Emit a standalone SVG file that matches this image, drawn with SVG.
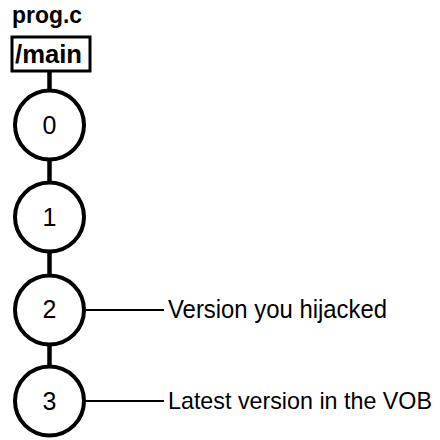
<svg xmlns="http://www.w3.org/2000/svg" width="440" height="440" viewBox="0 0 440 440">
<style>
.node circle{fill:#fff;stroke:#000;stroke-width:4}
.num{font-family:"Liberation Sans",Arial,sans-serif;font-size:25px;text-anchor:middle;fill:#000}
.bold{font-family:"Liberation Sans",Arial,sans-serif;font-weight:bold;font-size:24px;fill:#000}
.lbl{font-family:"Liberation Sans",Arial,sans-serif;font-size:25px;fill:#000}
.thick{stroke:#000;stroke-width:4.5}
.thin{stroke:#000;stroke-width:2}
</style>
<rect width="440" height="440" fill="#fff"/>
<g id="connectors">
<line class="thick" x1="49.5" y1="71" x2="49.5" y2="90"/>
<line class="thick" x1="49.5" y1="160" x2="49.5" y2="182"/>
<line class="thick" x1="49.5" y1="252" x2="49.5" y2="275"/>
<line class="thick" x1="49.5" y1="344" x2="49.5" y2="366"/>
<line class="thin" x1="84" y1="310" x2="164" y2="310"/>
<line class="thin" x1="84" y1="401" x2="164" y2="401"/>
</g>
<g id="title"><text class="bold" x="12" y="23" textLength="70" lengthAdjust="spacingAndGlyphs">prog.c</text></g>
<g id="branch">
<rect x="12" y="37" width="78" height="34" fill="#fff" stroke="#000" stroke-width="3"/>
<text class="bold" x="15" y="62.5" style="font-size:25px" textLength="67" lengthAdjust="spacingAndGlyphs">/main</text>
</g>
<g id="v0" class="node"><circle cx="49.5" cy="125" r="34.5"/><text class="num" x="49.5" y="134">0</text></g>
<g id="v1" class="node"><circle cx="49.5" cy="217" r="34.5"/><text class="num" x="49.5" y="226">1</text></g>
<g id="v2" class="node"><circle cx="49.5" cy="310" r="34.5"/><text class="num" x="49.5" y="318">2</text></g>
<g id="v3" class="node"><circle cx="49.5" cy="401" r="34.5"/><text class="num" x="49.5" y="410">3</text></g>
<g id="label2"><text class="lbl" x="168" y="318" textLength="219" lengthAdjust="spacingAndGlyphs">Version you hijacked</text></g>
<g id="label3"><text class="lbl" x="168" y="409" style="font-size:24px" textLength="264" lengthAdjust="spacingAndGlyphs">Latest version in the VOB</text></g>
</svg>
